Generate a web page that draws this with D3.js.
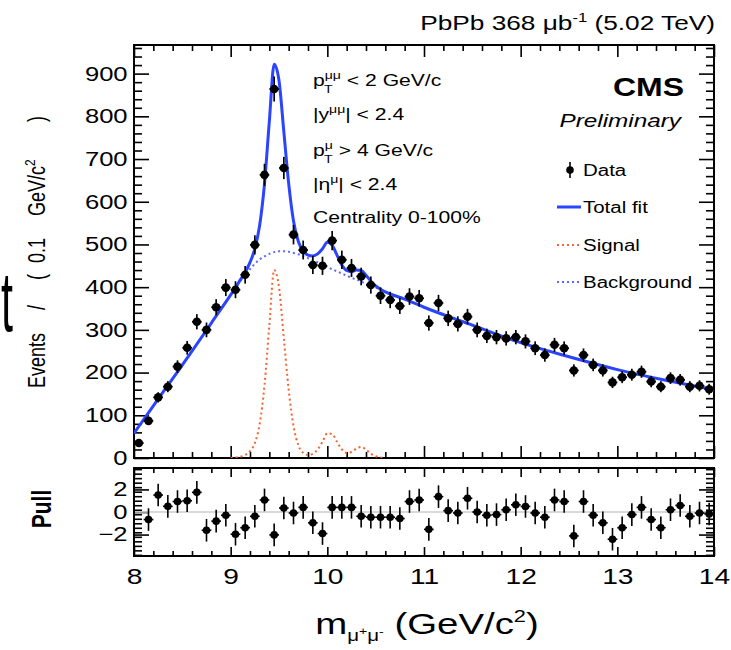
<!DOCTYPE html>
<html><head><meta charset="utf-8">
<script src="https://cdn.jsdelivr.net/npm/d3@7"></script>
<style>
body{margin:0;background:#fff}
svg{display:block}
text{font-family:"Liberation Sans",Arial,Helvetica,sans-serif}
</style></head>
<body><svg id="c" width="731" height="650"></svg>
<script>
// ---------------- DATA ----------------
const binCenters = [8.05,8.15,8.25,8.35,8.45,8.55,8.65,8.75,8.85,8.95,
  9.05,9.15,9.25,9.35,9.45,9.55,9.65,9.75,9.85,9.95,
  10.05,10.15,10.25,10.35,10.45,10.55,10.65,10.75,10.85,10.95,
  11.05,11.15,11.25,11.35,11.45,11.55,11.65,11.75,11.85,11.95,
  12.05,12.15,12.25,12.35,12.45,12.55,12.65,12.75,12.85,12.95,
  13.05,13.15,13.25,13.35,13.45,13.55,13.65,13.75,13.85,13.95];
const events = [35,87,142,167,214,258,319,300,353,399,
  394,429,499,663,864,679,523,487,452,450,
  509,464,445,425,405,380,370,356,378,374,
  316,363,327,314,331,300,286,283,280,283,
  273,257,241,265,257,205,241,218,205,177,
  189,195,202,179,167,187,183,167,169,161];
const pulls = [null,-0.67,1.5,0.5,0.93,1.0,1.74,-1.62,-0.81,-0.29,
  -1.97,-1.39,-0.38,1.07,-2.03,0.35,-0.09,0.41,-0.96,-1.91,
  0.41,0.41,0.41,-0.38,-0.46,-0.46,-0.46,-0.58,0.93,1.07,
  -1.54,1.36,0.12,-0.09,1.22,0.0,-0.29,-0.23,0.2,0.64,
  0.49,-0.09,-0.46,1.07,0.93,-2.12,0.93,-0.29,-0.96,-2.41,
  -1.39,-0.23,0.41,-0.67,-1.39,0.2,0.58,-0.38,-0.09,-0.17];

const curveMass = [8.0,8.2,8.4,8.6,8.8,9.0,9.05,9.1,9.15,9.2,9.25,9.3,9.35,9.4,9.45,9.5,9.55,9.6,9.65,9.7,
  9.75,9.8,9.85,9.9,9.95,10.0,10.05,10.1,10.15,10.2,10.25,10.3,10.35,10.4,10.45,10.5,10.55,10.6,
  10.8,11.0,11.5,12.0,12.5,13.0,13.5,14.0];
const totalFit = [58,122,186,250,316,382,399,417,435,458,490,545,642,788,922,884,764,643,555,507,
  485,475,473,478,490,505,498,475,452,439,436,440,439,428,414,403,395,389,
  372,353,311,270,237,207,182,160];
const background = [58,122,186,250,316,382,398,414,428,442,455,465,472,478,482,484,484,483,480,477,
  473,468,463,458,452,447,442,437,432,427,422,418,413,408,404,399,394,389,
  372,353,311,270,237,207,182,160];
const signal = [0,0,0,0,0,0,1,3,7,16,35,80,170,310,440,400,280,160,75,30,
  12,7,10,20,38,58,56,38,20,12,14,22,26,20,10,4,1,0,
  0,0,0,0,0,0,0,0];

const xTickLabels = [8,9,10,11,12,13,14];
const yTickLabels = [0,100,200,300,400,500,600,700,800,900];
const pullTickLabels = [-2,0,2];
const legendLabels = ["Data","Total fit","Signal","Background"];

// ---------------- LAYOUT ----------------
const svg = d3.select("#c");
const FONT = '"Liberation Sans",Arial,Helvetica,sans-serif';
const SX = 1.28; // horizontal stretch of the original picture
const L = 134, R = 714, T = 45, B = 458, PT = 468, PB = 556;
const x = d3.scaleLinear().domain([8,14]).range([L,R]);
const y = d3.scaleLinear().domain([0,967]).range([B,T]);
const yp = d3.scaleLinear().domain([-3.9,3.9]).range([PB,PT]);

function styleAxis(g, size){
  g.select(".domain").remove();
  g.selectAll(".tick line").attr("stroke","#000").attr("stroke-width",1.6);
  g.selectAll("text").attr("font-family",FONT).attr("font-size",size).attr("fill","#000").attr("transform",`scale(${SX},1)`);
}
const minorX = d3.range(80,141,2).map(d=>d/10).filter(d=>d%1!==0);
const minorY = d3.range(0,967,20).filter(d=>d%100!==0);
const minorP = d3.range(-38,39,4).map(d=>d/10).filter(d=>Math.abs(d)%2!==0);

// main panel axes
svg.append("g").attr("transform",`translate(0,${B})`).call(d3.axisBottom(x).tickValues(xTickLabels).tickSize(-12).tickFormat("")).call(styleAxis,0);
svg.append("g").attr("transform",`translate(0,${B})`).call(d3.axisBottom(x).tickValues(minorX).tickSize(-6).tickFormat("")).call(styleAxis,0);
svg.append("g").attr("transform",`translate(0,${T})`).call(d3.axisTop(x).tickValues(xTickLabels).tickSize(-12).tickFormat("")).call(styleAxis,0);
svg.append("g").attr("transform",`translate(0,${T})`).call(d3.axisTop(x).tickValues(minorX).tickSize(-6).tickFormat("")).call(styleAxis,0);
svg.append("g").attr("transform",`translate(${L},0)`).call(d3.axisLeft(y).tickValues(yTickLabels).tickSize(-15).tickPadding(5).tickFormat(d3.format("d"))).call(styleAxis,20);
svg.append("g").attr("transform",`translate(${L},0)`).call(d3.axisLeft(y).tickValues(minorY).tickSize(-8).tickFormat("")).call(styleAxis,0);
svg.append("g").attr("transform",`translate(${R},0)`).call(d3.axisRight(y).tickValues(yTickLabels).tickSize(-15).tickFormat("")).call(styleAxis,0);
svg.append("g").attr("transform",`translate(${R},0)`).call(d3.axisRight(y).tickValues(minorY).tickSize(-8).tickFormat("")).call(styleAxis,0);

// pull panel axes
svg.append("g").attr("transform",`translate(0,${PB})`).call(d3.axisBottom(x).tickValues(xTickLabels).tickSize(-9).tickPadding(12).tickFormat(d3.format("d"))).call(styleAxis,22);
svg.append("g").attr("transform",`translate(0,${PB})`).call(d3.axisBottom(x).tickValues(minorX).tickSize(-5).tickFormat("")).call(styleAxis,0);
svg.append("g").attr("transform",`translate(0,${PT})`).call(d3.axisTop(x).tickValues(xTickLabels).tickSize(-9).tickFormat("")).call(styleAxis,0);
svg.append("g").attr("transform",`translate(0,${PT})`).call(d3.axisTop(x).tickValues(minorX).tickSize(-5).tickFormat("")).call(styleAxis,0);
svg.append("g").attr("transform",`translate(${L},0)`).call(d3.axisLeft(yp).tickValues(pullTickLabels).tickSize(-15).tickPadding(5)).call(styleAxis,20);
svg.append("g").attr("transform",`translate(${L},0)`).call(d3.axisLeft(yp).tickValues(minorP).tickSize(-8).tickFormat("")).call(styleAxis,0);
svg.append("g").attr("transform",`translate(${R},0)`).call(d3.axisRight(yp).tickValues(pullTickLabels).tickSize(-15).tickFormat("")).call(styleAxis,0);
svg.append("g").attr("transform",`translate(${R},0)`).call(d3.axisRight(yp).tickValues(minorP).tickSize(-8).tickFormat("")).call(styleAxis,0);

// zero line in pull
svg.append("line").attr("x1",L).attr("x2",R).attr("y1",yp(0)).attr("y2",yp(0)).attr("stroke","#cccccc").attr("stroke-width",1.5);

// frames
svg.append("rect").attr("x",L).attr("y",T).attr("width",R-L).attr("height",B-T).attr("fill","none").attr("stroke","#000").attr("stroke-width",2);
svg.append("rect").attr("x",L).attr("y",PT).attr("width",R-L).attr("height",PB-PT).attr("fill","none").attr("stroke","#000").attr("stroke-width",2);

// ---------------- CURVES ----------------
svg.append("clipPath").attr("id","mc").append("rect").attr("x",L).attr("y",T).attr("width",R-L).attr("height",B-T);
const plot = svg.append("g").attr("clip-path","url(#mc)");
const line = d3.line().x(d=>x(d[0])).y(d=>y(d[1])).curve(d3.curveMonotoneX);
const sigPts = curveMass.map((m,i)=>[m,signal[i]]).filter(d=>d[0]>=9.0 && d[0]<=10.65);
plot.append("path").attr("d",line(sigPts)).attr("fill","none").attr("stroke","#f26430").attr("stroke-width",2).attr("stroke-dasharray","2,3");
plot.append("path").attr("d",line(curveMass.map((m,i)=>[m,background[i]]))).attr("fill","none").attr("stroke","#5a6aff").attr("stroke-width",2).attr("stroke-dasharray","2,3");
plot.append("path").attr("d",line(curveMass.map((m,i)=>[m,totalFit[i]]))).attr("fill","none").attr("stroke","#2b45ff").attr("stroke-width",3);

// ---------------- DATA POINTS ----------------
const hw = x(8.05)-x(8.0);
const dp = plot.selectAll("g.pt").data(binCenters.map((m,i)=>({m,v:events[i]}))).join("g");
dp.append("line").attr("x1",d=>x(d.m)).attr("x2",d=>x(d.m)).attr("y1",d=>y(d.v-Math.sqrt(d.v))).attr("y2",d=>y(d.v+Math.sqrt(d.v))).attr("stroke","#000").attr("stroke-width",1.7);
dp.append("line").attr("x1",d=>x(d.m)-hw).attr("x2",d=>x(d.m)+hw).attr("y1",d=>y(d.v)).attr("y2",d=>y(d.v)).attr("stroke","#000").attr("stroke-width",1.7);
dp.append("circle").attr("cx",d=>x(d.m)).attr("cy",d=>y(d.v)).attr("r",4.3).attr("fill","#000");

const pp = svg.selectAll("g.pp").data(binCenters.map((m,i)=>({m,v:pulls[i]})).filter(d=>d.v!==null)).join("g");
pp.append("line").attr("x1",d=>x(d.m)).attr("x2",d=>x(d.m)).attr("y1",d=>yp(d.v-1)).attr("y2",d=>yp(d.v+1)).attr("stroke","#000").attr("stroke-width",1.6);
pp.append("line").attr("x1",d=>x(d.m)-hw).attr("x2",d=>x(d.m)+hw).attr("y1",d=>yp(d.v)).attr("y2",d=>yp(d.v)).attr("stroke","#000").attr("stroke-width",1.6);
pp.append("circle").attr("cx",d=>x(d.m)).attr("cy",d=>yp(d.v)).attr("r",3.8).attr("fill","#000");

// ---------------- TEXT ----------------
function t(xp, yb, s, o={}){
  const sx = o.sx || SX;
  const rot = o.rot ? ` rotate(${o.rot}) scale(1,${sx})` : ` scale(${sx},1)`;
  const el = svg.append("text").attr("transform",`translate(${xp},${yb})${rot}`)
    .attr("font-size",o.size||18).attr("text-anchor",o.anchor||"start").attr("fill","#000")
    .attr("font-weight",o.weight||"normal").attr("font-style",o.style||"normal").attr("font-family",o.family||FONT);
  if(s!==null) el.text(s);
  return el;
}
// header
const hdr = t(715,30,null,{size:20.5,anchor:"end"});
hdr.append("tspan").text("PbPb 368 μb");
hdr.append("tspan").attr("dy",-8).attr("font-size",13).text("-1");
hdr.append("tspan").attr("dy",8).text(" (5.02 TeV)");

// CMS / Preliminary
t(684,96,"CMS",{size:25,weight:"bold",anchor:"end"});
t(681,127,"Preliminary",{size:19,style:"italic",anchor:"end"});

// info block
const fs = 16.5, ix = 313;
function supLine(yb, pre, sup, rest, sub){
  const e = t(ix,yb,null,{size:fs});
  e.append("tspan").text(pre);
  e.append("tspan").attr("font-size",11).attr("dy",-7).text(sup);
  e.append("tspan").attr("dy",7).text(rest);
  if(sub) t(ix+11,yb+7,sub,{size:11});
}
supLine(86,"p","μμ"," < 2 GeV/c","T");
supLine(120,"|y","μμ","| < 2.4",null);
supLine(156,"p","μ"," > 4 GeV/c","T");
supLine(190,"|η","μ","| < 2.4",null);
t(ix,223,"Centrality 0-100%",{size:fs});

// legend
const lx = 583, ly = [170,207,245,282];
legendLabels.forEach((s,i)=>t(lx,ly[i]+6,s,{size:16}));
svg.append("circle").attr("cx",570).attr("cy",ly[0]).attr("r",3.8).attr("fill","#000");
svg.append("line").attr("x1",570).attr("x2",570).attr("y1",ly[0]-8).attr("y2",ly[0]+8).attr("stroke","#000").attr("stroke-width",1.6);
svg.append("line").attr("x1",557).attr("x2",581).attr("y1",ly[1]).attr("y2",ly[1]).attr("stroke","#2b45ff").attr("stroke-width",3);
svg.append("line").attr("x1",557).attr("x2",581).attr("y1",ly[2]).attr("y2",ly[2]).attr("stroke","#f26430").attr("stroke-width",2).attr("stroke-dasharray","2,3");
svg.append("line").attr("x1",557).attr("x2",581).attr("y1",ly[3]).attr("y2",ly[3]).attr("stroke","#5a6aff").attr("stroke-width",2).attr("stroke-dasharray","2,3");

// y title (rotated; pieces placed along the axis)
const yt = t(45,388,null,{size:18,rot:-90});
yt.append("tspan").attr("x",0).text("Events");
yt.append("tspan").attr("x",78).text("/");
yt.append("tspan").attr("x",108).text("(");
yt.append("tspan").attr("x",125).text("0.1");
yt.append("tspan").attr("x",172).text("GeV/c");
yt.append("tspan").attr("font-size",12).attr("dy",-8).text("2");
yt.append("tspan").attr("x",266).attr("dy",8).text(")");

// Pull title
t(51,509,"Pull",{size:21,weight:"bold",anchor:"middle",rot:-90});

// x title
const xt = t(427,634,null,{size:30,anchor:"middle"});
xt.append("tspan").text("m");
xt.append("tspan").attr("font-size",16).attr("dy",7).text("μ");
xt.append("tspan").attr("font-size",11).attr("dy",-6).text("+");
xt.append("tspan").attr("font-size",16).attr("dy",6).text("μ");
xt.append("tspan").attr("font-size",11).attr("dy",-6).text("-");
xt.append("tspan").attr("dy",-1).text(" (GeV/c");
xt.append("tspan").attr("font-size",17).attr("dy",-12).text("2");
xt.append("tspan").attr("dy",12).text(")");

// stray glyph at the left edge of the cropped figure (kept inside the picture)
t(1,331,"t",{size:86,sx:0.5,family:'"Liberation Serif","Times New Roman",serif'});
</script></body></html>
